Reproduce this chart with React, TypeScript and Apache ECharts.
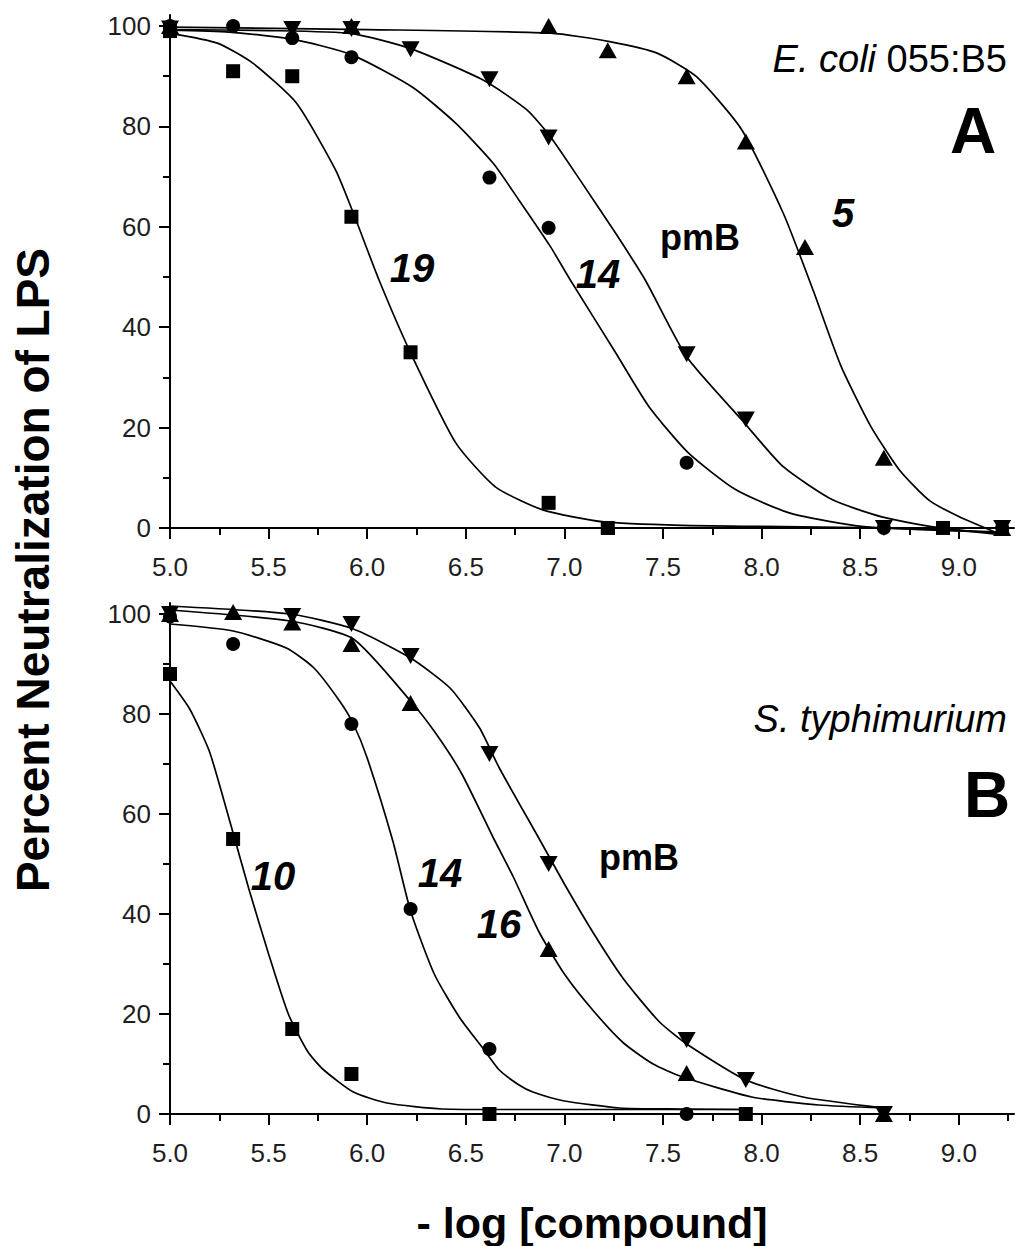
import React, { useEffect, useRef } from "react";
import * as echarts from "echarts";

// ---- axis tick values ----
const xTicks = [5.0, 5.5, 6.0, 6.5, 7.0, 7.5, 8.0, 8.5, 9.0];
const xMinorTicks = [5.25, 5.75, 6.25, 6.75, 7.25, 7.75, 8.25, 8.75, 9.25];
const yTicks = [0, 20, 40, 60, 80, 100];
const yMinorTicks = [10, 30, 50, 70, 90];

// ---- Panel A (E. coli 055:B5) measured points ----
const aSquare19: [number, number][] = [[5.0, 99], [5.32, 91], [5.62, 90], [5.92, 62], [6.22, 35], [6.92, 5], [7.22, 0], [8.92, 0]];
const aCircle14: [number, number][] = [[5.0, 100], [5.32, 100], [5.62, 97.6], [5.92, 93.8], [6.62, 69.8], [6.92, 59.8], [7.62, 13], [8.62, 0], [9.22, 0]];
const aDownPmB: [number, number][] = [[5.0, 99.5], [5.62, 99.4], [5.92, 99.4], [6.22, 95.4], [6.62, 89.4], [6.92, 77.8], [7.62, 34.6], [7.92, 21.6], [8.62, 0], [9.22, 0]];
const aUp5: [number, number][] = [[5.0, 100], [5.92, 100], [6.92, 100], [7.22, 95.2], [7.62, 90], [7.92, 77], [8.22, 56], [8.62, 14], [9.22, 0]];

// ---- Panel A fitted curves ----
const aFit19: [number, number][] = [[5.0, 98.6], [5.24, 96.6], [5.42, 92.6], [5.64, 84.7], [5.84, 71.3], [5.93, 62.7], [6.06, 49.4], [6.22, 34.9], [6.45, 16.9], [6.65, 8.2], [6.89, 3.6], [7.2, 1.2], [7.6, 0.5], [8.0, 0.3], [8.6, 0.0], [9.22, -0.8]];
const aFit14: [number, number][] = [[5.0, 99.2], [5.3, 98.8], [5.62, 97.4], [5.92, 94.3], [6.23, 87.8], [6.45, 80.6], [6.64, 72.6], [6.77, 65.3], [6.93, 56], [7.03, 49.4], [7.26, 34.9], [7.43, 24.1], [7.63, 14.9], [7.87, 7.6], [8.14, 3], [8.45, 0.6], [8.61, 0], [9.0, -0.6], [9.22, -1]];
const aFitPmB: [number, number][] = [[5.0, 99.3], [5.5, 99.1], [5.92, 98.5], [6.22, 95.5], [6.59, 89.2], [6.81, 83.3], [6.93, 77.9], [7.09, 68.7], [7.26, 58.7], [7.41, 49.4], [7.62, 34.1], [7.9, 21.5], [8.11, 12.2], [8.36, 5.6], [8.61, 2.2], [8.87, 0.2], [9.22, -1.4]];
const aFit5: [number, number][] = [[5.0, 99.8], [6.0, 99.3], [6.93, 98.6], [7.23, 96.9], [7.47, 94.6], [7.67, 89.9], [7.9, 79.3], [8.11, 62.7], [8.26, 47.5], [8.4, 32.5], [8.55, 20.5], [8.7, 11.5], [8.85, 5.5], [9.0, 2.3], [9.22, -1.4]];

// ---- Panel B (S. typhimurium) measured points ----
const bSquare10: [number, number][] = [[5.0, 88], [5.32, 55], [5.62, 17], [5.92, 8], [6.62, 0], [7.92, 0]];
const bCircle14: [number, number][] = [[5.0, 99.5], [5.32, 94], [5.92, 78], [6.22, 41], [6.62, 13], [7.62, 0]];
const bUp16: [number, number][] = [[5.0, 100], [5.32, 100.4], [5.62, 98.3], [5.92, 94], [6.22, 82.2], [6.92, 33], [7.62, 8.2], [8.62, 0]];
const bDownPmB: [number, number][] = [[5.0, 100], [5.62, 99.6], [5.92, 98], [6.22, 91.6], [6.62, 72], [6.92, 50], [7.62, 14.8], [7.92, 6.8], [8.62, 0]];

// ---- Panel B fitted curves ----
const bFit10: [number, number][] = [[5.0, 86.6], [5.1, 81], [5.2, 72.5], [5.3, 59], [5.4, 45], [5.5, 32], [5.6, 20], [5.7, 12.4], [5.78, 8.8], [5.93, 4.4], [6.1, 2.2], [6.38, 1], [6.7, 0.9], [7.3, 0.9], [7.92, 0.9]];
const bFit14: [number, number][] = [[5.0, 98], [5.32, 96.6], [5.59, 93.2], [5.73, 89.2], [5.86, 82.6], [5.93, 78], [6.0, 71.2], [6.13, 54.6], [6.22, 40.6], [6.34, 28], [6.47, 19.2], [6.59, 13], [6.67, 8.8], [6.77, 5.8], [6.84, 4.4], [7.0, 2.6], [7.28, 1.2], [7.58, 1], [7.92, 0.9]];
const bFit16: [number, number][] = [[5.0, 100.8], [5.61, 98.6], [5.93, 95], [6.22, 82.6], [6.35, 76], [6.48, 68], [6.64, 55.2], [6.74, 47.5], [6.87, 36.5], [7.0, 28], [7.15, 20.5], [7.3, 14.2], [7.45, 10], [7.6, 7.4], [7.95, 3.4], [8.29, 1.8], [8.62, 1.2]];
const bFitPmB: [number, number][] = [[5.0, 101.6], [5.61, 100], [5.93, 97], [6.22, 91.2], [6.42, 85.2], [6.57, 77.2], [6.67, 69.2], [6.87, 55.2], [7.0, 46], [7.15, 36], [7.3, 27], [7.48, 18.5], [7.62, 14], [7.92, 6.8], [8.21, 3.4], [8.62, 1.2]];

const FONT = '"Liberation Sans", Arial, Helvetica, sans-serif';
const X_MIN = 5.0;
const X_MAX = 9.28;
const Y_MIN = -2;
const Y_MAX = 102.2;

function lineSeries(data: [number, number][], axis: number) {
  return {
    type: "line",
    data,
    xAxisIndex: axis * 2,
    yAxisIndex: axis * 2,
    showSymbol: false,
    symbol: "none",
    smooth: 0.2,
    clip: false,
    silent: true,
    z: 2,
    lineStyle: { color: "#000", width: 1.7 },
  };
}

function pointSeries(data: [number, number][], axis: number, symbol: string, size: number | number[], rotate = 0) {
  return {
    type: "scatter",
    data,
    xAxisIndex: axis * 2,
    yAxisIndex: axis * 2,
    symbol,
    symbolSize: size,
    symbolRotate: rotate,
    clip: false,
    silent: true,
    z: 3,
    itemStyle: { color: "#000", opacity: 1 },
  };
}

function xAxes(grid: number) {
  return [
    {
      type: "value",
      gridIndex: grid,
      min: X_MIN,
      max: X_MAX,
      position: "bottom",
      splitLine: { show: false },
      axisLine: { show: true, lineStyle: { color: "#000", width: 2 } },
      axisTick: { show: true, customValues: xTicks, length: 11, lineStyle: { color: "#000", width: 2 } },
      axisLabel: {
        show: true,
        customValues: xTicks,
        formatter: (v: number) => v.toFixed(1),
        fontSize: 26,
        fontFamily: FONT,
        color: "#1e1e1e",
        margin: 16,
      },
    },
    {
      type: "value",
      gridIndex: grid,
      min: X_MIN,
      max: X_MAX,
      position: "bottom",
      splitLine: { show: false },
      axisLine: { show: false },
      axisTick: { show: true, customValues: xMinorTicks, length: 7, lineStyle: { color: "#000", width: 2 } },
      axisLabel: { show: false, customValues: xMinorTicks },
    },
  ];
}

function yAxes(grid: number) {
  return [
    {
      type: "value",
      gridIndex: grid,
      min: Y_MIN,
      max: Y_MAX,
      position: "left",
      splitLine: { show: false },
      axisLine: { show: true, lineStyle: { color: "#000", width: 2 } },
      axisTick: { show: true, customValues: yTicks, length: 11, lineStyle: { color: "#000", width: 2 } },
      axisLabel: {
        show: true,
        customValues: yTicks,
        fontSize: 26,
        fontFamily: FONT,
        color: "#1e1e1e",
        margin: 19,
      },
    },
    {
      type: "value",
      gridIndex: grid,
      min: Y_MIN,
      max: Y_MAX,
      position: "left",
      offset: 0,
      splitLine: { show: false },
      axisLine: { show: false },
      axisTick: { show: true, customValues: yMinorTicks, length: 7, lineStyle: { color: "#000", width: 2 } },
      axisLabel: { show: false, customValues: yMinorTicks },
    },
  ];
}

function label(text: string, x: number, y: number, font: string, align = "center", rich?: any) {
  return {
    type: "text",
    x,
    y,
    silent: true,
    z: 10,
    style: {
      text,
      font,
      fill: "#000",
      align,
      verticalAlign: "middle",
      ...(rich ? { rich } : {}),
    },
  };
}

export default function App() {
  const ref = useRef<HTMLDivElement>(null);

  useEffect(() => {
    if (!ref.current) return;
    const chart = echarts.init(ref.current, undefined, { renderer: "svg" });
    const option: any = {
      animation: false,
      backgroundColor: "#fff",
      grid: [
        { left: 170, top: 15, width: 844, height: 523, outerBoundsMode: "none", containLabel: false },
        { left: 170, top: 603, width: 844, height: 521, outerBoundsMode: "none", containLabel: false },
      ],
      xAxis: [...xAxes(0), ...xAxes(1)],
      yAxis: [...yAxes(0), ...yAxes(1)],
      series: [
        lineSeries(aFit19, 0),
        lineSeries(aFit14, 0),
        lineSeries(aFitPmB, 0),
        lineSeries(aFit5, 0),
        pointSeries(aSquare19, 0, "rect", 14),
        pointSeries(aCircle14, 0, "circle", 14),
        pointSeries(aDownPmB, 0, "triangle", [18, 16], 180),
        pointSeries(aUp5, 0, "triangle", [18, 16]),
        lineSeries(bFit10, 1),
        lineSeries(bFit14, 1),
        lineSeries(bFit16, 1),
        lineSeries(bFitPmB, 1),
        pointSeries(bSquare10, 1, "rect", 14),
        pointSeries(bCircle14, 1, "circle", 14),
        pointSeries(bUp16, 1, "triangle", [18, 16]),
        pointSeries(bDownPmB, 1, "triangle", [18, 16], 180),
      ],
      graphic: [
        // Panel A annotations
        label("{i|E. coli} 055:B5", 1007, 59, `38px ${FONT}`, "right", {
          i: { fontStyle: "italic", fontSize: 38, fontFamily: FONT, fill: "#000" },
        }),
        label("A", 973, 131, `bold 64px ${FONT}`),
        label("5", 843, 213, `italic bold 40px ${FONT}`),
        label("pmB", 700, 237, `bold 36px ${FONT}`),
        label("14", 598, 274, `italic bold 40px ${FONT}`),
        label("19", 412, 268, `italic bold 40px ${FONT}`),
        // Panel B annotations
        label("S. typhimurium", 1007, 719, `italic 38px ${FONT}`, "right"),
        label("B", 987, 795, `bold 64px ${FONT}`),
        label("pmB", 639, 857, `bold 36px ${FONT}`),
        label("10", 273, 876, `italic bold 40px ${FONT}`),
        label("14", 440, 873, `italic bold 40px ${FONT}`),
        label("16", 499, 924, `italic bold 40px ${FONT}`),
        // Axis titles
        {
          type: "text",
          x: 33,
          y: 570,
          rotation: Math.PI / 2,
          silent: true,
          style: {
            text: "Percent Neutralization of LPS",
            font: `bold 46px ${FONT}`,
            fill: "#000",
            align: "center",
            verticalAlign: "middle",
          },
        },
        label("- log [compound]", 592, 1223, `bold 43px ${FONT}`),
      ],
    };
    chart.setOption(option);
    return () => {
      chart.dispose();
    };
  }, []);

  return (
    <div
      ref={ref}
      style={{ position: "absolute", left: 0, top: 0, width: 1015, height: 1246, background: "#fff" }}
    />
  );
}
